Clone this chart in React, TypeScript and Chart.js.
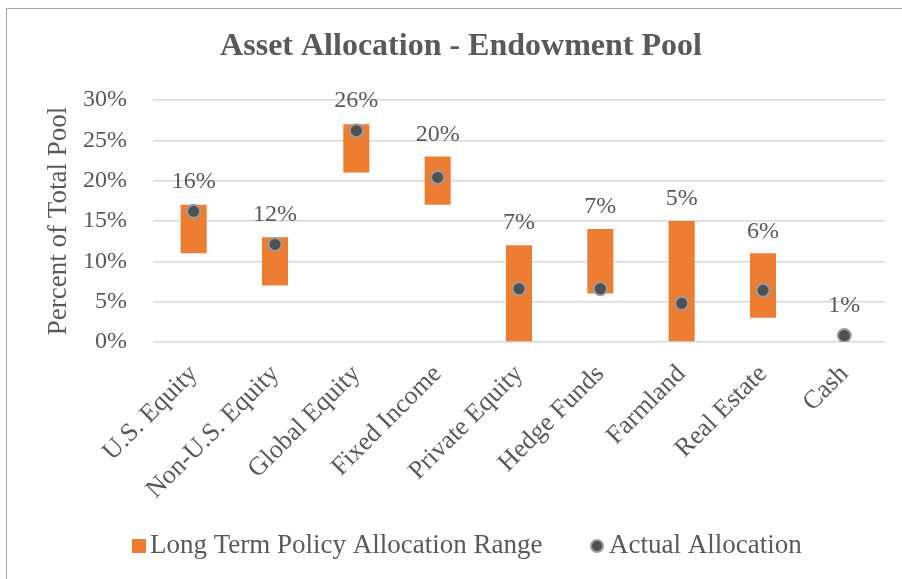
import React, { useEffect, useRef } from "react";
import { Chart, registerables } from "chart.js";
Chart.register(...registerables);

const categories = [
  "U.S. Equity",
  "Non-U.S. Equity",
  "Global Equity",
  "Fixed Income",
  "Private Equity",
  "Hedge Funds",
  "Farmland",
  "Real Estate",
  "Cash",
];
const rangeLow: (number | null)[] = [11, 7, 21, 17, 0, 6, 0, 3, null];
const rangeHigh: (number | null)[] = [17, 13, 27, 23, 12, 14, 15, 11, null];
const actual = [16.2, 12.1, 26.2, 20.4, 6.6, 6.6, 4.8, 6.4, 0.8];
const yTicks = [0, 5, 10, 15, 20, 25, 30];
const chartTitle = "Asset Allocation - Endowment Pool";
const yTitle = "Percent of Total Pool";
const seriesNames = ["Long Term Policy Allocation Range", "Actual Allocation"];

const FONT = "'Liberation Serif', 'Times New Roman', serif";
const TEXT = "#595959";
const ORANGE = "#ED7D31";
const DOT = "#505050";
const DOT_RING = "#9c9c9c";

const decor = {
  id: "decor",
  beforeDraw(chart: any) {
    const { ctx, width, height } = chart;
    ctx.save();
    ctx.fillStyle = "#ffffff";
    ctx.fillRect(0, 0, width, height);
    ctx.strokeStyle = "#a6a6a6";
    ctx.lineWidth = 1;
    ctx.strokeRect(6.5, 8.5, width + 10, height + 10);
    ctx.restore();
  },
  afterDraw(chart: any) {
    const { ctx } = chart;
    const xs = chart.scales.x;
    const ys = chart.scales.y;
    ctx.save();
    // title
    ctx.fillStyle = TEXT;
    ctx.font = `bold 32px ${FONT}`;
    ctx.textAlign = "center";
    ctx.textBaseline = "middle";
    ctx.fillText(chartTitle, 461, 47);

    // data labels
    ctx.font = `24px ${FONT}`;
    actual.forEach((v, i) => {
      const x = xs.getPixelForValue(i);
      const pointTop = ys.getPixelForValue(v) - 7.5;
      const hi = rangeHigh[i];
      const barTop = hi == null ? Infinity : ys.getPixelForValue(hi);
      const top = Math.min(pointTop, barTop);
      ctx.fillText(Math.round(v) + "%", x, top - 22);
    });

    // legend
    const ly = 546;
    ctx.fillStyle = ORANGE;
    ctx.fillRect(132, ly - 7, 14, 14);
    ctx.fillStyle = TEXT;
    ctx.font = `27px ${FONT}`;
    ctx.textAlign = "left";
    ctx.fillText(seriesNames[0], 150, ly);
    ctx.beginPath();
    ctx.arc(597, ly, 6, 0, Math.PI * 2);
    ctx.fillStyle = DOT;
    ctx.fill();
    ctx.lineWidth = 2;
    ctx.strokeStyle = DOT_RING;
    ctx.stroke();
    ctx.fillStyle = TEXT;
    ctx.fillText(seriesNames[1], 609, ly);
    ctx.restore();
  },
};

export default function App() {
  const ref = useRef<HTMLCanvasElement>(null);
  useEffect(() => {
    if (!ref.current) return;
    const chart = new Chart(ref.current, {
      type: "bar",
      data: {
        labels: categories,
        datasets: [
          {
            type: "line",
            label: seriesNames[1],
            data: actual,
            showLine: false,
            pointRadius: 6.5,
            pointHoverRadius: 6.5,
            pointBackgroundColor: DOT,
            pointBorderColor: DOT_RING,
            pointBorderWidth: 2,
            order: 0,
          } as any,
          {
            type: "bar",
            label: seriesNames[0],
            data: categories.map((_, i) =>
              rangeLow[i] == null ? null : [rangeLow[i], rangeHigh[i]]
            ) as any,
            backgroundColor: ORANGE,
            borderWidth: 0,
            barPercentage: 0.32,
            categoryPercentage: 1,
            order: 1,
          },
        ],
      },
      options: {
        responsive: false,
        animation: false,
        devicePixelRatio: 1,
        layout: { padding: { top: 100, right: 17, bottom: 0, left: 0 } },
        plugins: {
          legend: { display: false },
          title: { display: false },
          tooltip: { enabled: false },
        },
        scales: {
          x: {
            type: "category",
            offset: true,
            grid: { display: false, drawTicks: false },
            border: { display: false },
            ticks: {
              color: TEXT,
              font: { family: FONT, size: 26 },
              minRotation: 45,
              maxRotation: 45,
              autoSkip: false,
              padding: 17,
            },
            afterFit: (s: any) => {
              s.height = 579 - 342;
            },
          },
          y: {
            min: 0,
            max: 30,
            grid: { color: "#d9d9d9", lineWidth: 1.5, drawTicks: false },
            border: { display: false },
            afterBuildTicks: (s: any) => {
              s.ticks = yTicks.map((v) => ({ value: v }));
            },
            ticks: {
              color: TEXT,
              font: { family: FONT, size: 24 },
              padding: 26,
              callback: (v: any) => v + "%",
            },
            title: {
              display: true,
              text: yTitle,
              color: TEXT,
              font: { family: FONT, size: 27 },
              padding: { top: 43, bottom: 0 },
            },
            afterFit: (s: any) => {
              s.width = 153;
            },
          },
        },
      },
      plugins: [decor],
    });
    return () => chart.destroy();
  }, []);
  return (
    <div style={{ position: "absolute", left: 0, top: 0, width: 902, height: 579 }}>
      <canvas ref={ref} width={902} height={579} style={{ display: "block" }} />
    </div>
  );
}
